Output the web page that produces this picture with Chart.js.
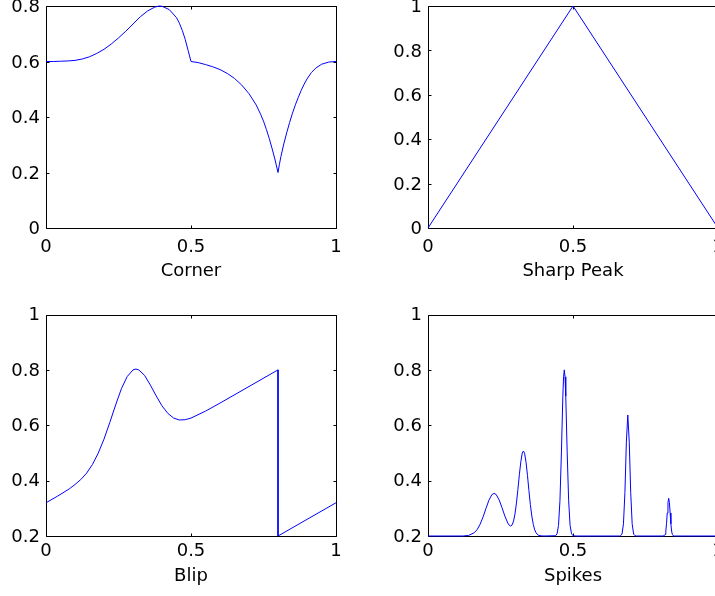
<!DOCTYPE html>
<html>
<head>
<meta charset="utf-8">
<script src="https://cdn.jsdelivr.net/npm/chart.js@4.4.1/dist/chart.umd.min.js"></script>
<style>
html, body { margin: 0; padding: 0; background: #fff; overflow: hidden; }
#wrap { position: relative; width: 715px; height: 596px; overflow: hidden; background: #fff; }
canvas { position: absolute; }
</style>
</head>
<body>
<div id="wrap">
  <canvas id="c1" width="360" height="308" style="left:0px;top:0px;width:360px;height:308px"></canvas>
  <canvas id="c2" width="400" height="308" style="left:360px;top:0px;width:400px;height:308px"></canvas>
  <canvas id="c3" width="360" height="316" style="left:0px;top:300px;width:360px;height:316px"></canvas>
  <canvas id="c4" width="400" height="316" style="left:360px;top:300px;width:400px;height:316px"></canvas>
</div>
<script>
// ---------------- data ----------------
const titles = ['Corner', 'Sharp Peak', 'Blip', 'Spikes'];

const xTickValues = [0, 0.5, 1];
const xTickLabels = ['0', '0.5', '1'];
const yTickValuesTop = [0, 0.2, 0.4, 0.6, 0.8, 1];
const yTickLabelsTop = ['0', '0.2', '0.4', '0.6', '0.8', '1'];
const yTickValuesCorner = [0, 0.2, 0.4, 0.6, 0.8];
const yTickLabelsCorner = ['0', '0.2', '0.4', '0.6', '0.8'];
const yTickValuesBottom = [0.2, 0.4, 0.6, 0.8, 1];
const yTickLabelsBottom = ['0.2', '0.4', '0.6', '0.8', '1'];

const cornerX = [0, 0.025, 0.05, 0.075, 0.1, 0.125, 0.15, 0.175, 0.2, 0.225, 0.25, 0.275, 0.3, 0.325, 0.35, 0.375, 0.39, 0.4, 0.425, 0.45, 0.46, 0.47, 0.48, 0.49, 0.495, 0.5,
  0.525, 0.55, 0.575, 0.6, 0.625, 0.65, 0.675, 0.7, 0.725, 0.74, 0.75, 0.76, 0.77, 0.78, 0.79, 0.8,
  0.805, 0.81, 0.82, 0.83, 0.84, 0.85, 0.86, 0.87, 0.88, 0.89, 0.9, 0.915, 0.93, 0.95, 0.975, 1];
const cornerY = [0.6, 0.6, 0.601, 0.602, 0.604, 0.609, 0.617, 0.629, 0.644, 0.663, 0.685, 0.709, 0.735, 0.761, 0.782, 0.796, 0.8, 0.799, 0.787, 0.758, 0.738, 0.712, 0.68, 0.64, 0.62, 0.6,
  0.596, 0.589, 0.581, 0.571, 0.557, 0.539, 0.515, 0.484, 0.443, 0.41, 0.385, 0.355, 0.322, 0.285, 0.245, 0.2,
  0.23, 0.257, 0.303, 0.343, 0.38, 0.414, 0.444, 0.471, 0.496, 0.518, 0.537, 0.56, 0.576, 0.59, 0.598, 0.6];

const peakX = [0, 0.5, 1];
const peakY = [0, 1, 0];

const blipX = [0, 0.04, 0.08, 0.1, 0.12, 0.14, 0.16, 0.18, 0.2, 0.22, 0.24, 0.26, 0.28, 0.3, 0.31, 0.32, 0.34, 0.36, 0.38, 0.4, 0.42, 0.44, 0.46, 0.48, 0.5, 0.55, 0.6, 0.7, 0.8, 0.8, 0.9, 1];
const blipY = [0.32, 0.344, 0.37, 0.386, 0.404, 0.427, 0.458, 0.499, 0.55, 0.61, 0.673, 0.732, 0.776, 0.8, 0.803, 0.8, 0.78, 0.745, 0.706, 0.67, 0.643, 0.626, 0.619, 0.62, 0.626, 0.651, 0.68, 0.74, 0.8, 0.2, 0.26, 0.32];

const spikesX = [0, 0.12, 0.14, 0.16, 0.17, 0.18, 0.19, 0.2, 0.21, 0.22, 0.228, 0.235, 0.245, 0.255, 0.265, 0.275, 0.28, 0.285, 0.29, 0.295, 0.3, 0.305, 0.31, 0.315, 0.32, 0.325, 0.329, 0.333, 0.338, 0.343, 0.348, 0.353, 0.358, 0.363, 0.368, 0.373, 0.38, 0.39, 0.4,
  0.44, 0.445, 0.45, 0.455, 0.46, 0.465, 0.4675, 0.47, 0.4725, 0.475, 0.48, 0.485, 0.49, 0.495, 0.5, 0.51,
  0.66, 0.664, 0.669, 0.674, 0.679, 0.684, 0.689, 0.694, 0.699, 0.704, 0.709, 0.714, 0.72,
  0.81, 0.815, 0.8175, 0.82, 0.8225, 0.825, 0.8275, 0.83, 0.8325, 0.835, 0.8375, 0.84, 0.8425, 0.845, 0.85, 1];
const spikesY = [0.2, 0.2, 0.202, 0.212, 0.224, 0.243, 0.269, 0.3, 0.329, 0.349, 0.354, 0.35, 0.331, 0.303, 0.272, 0.247, 0.239, 0.236, 0.24, 0.254, 0.28, 0.319, 0.368, 0.421, 0.468, 0.5, 0.507, 0.499, 0.467, 0.419, 0.364, 0.313, 0.272, 0.242, 0.222, 0.211, 0.203, 0.2005, 0.2,
  0.201, 0.208, 0.238, 0.327, 0.5, 0.705, 0.775, 0.8, 0.775, 0.705, 0.5, 0.327, 0.238, 0.208, 0.201, 0.2,
  0.2, 0.201, 0.207, 0.244, 0.357, 0.539, 0.637, 0.539, 0.357, 0.244, 0.207, 0.201, 0.2,
  0.2, 0.2015, 0.206, 0.218, 0.244, 0.283, 0.32, 0.336, 0.32, 0.283, 0.244, 0.218, 0.206, 0.2015, 0.2, 0.2];

// ---------------- drawing ----------------
const FONT = { family: 'DejaVu Sans', size: 18 };

const frameTicks = {
  id: 'frameTicks',
  beforeDatasetsDraw(chart) {
    const { ctx, chartArea: a, scales: { x, y } } = chart;
    const L = Math.round(a.left) + 0.5, R = Math.round(a.right) + 0.5;
    const T = Math.round(a.top) + 0.5, B = Math.round(a.bottom) + 0.5;
    const tl = 3;
    ctx.save();
    ctx.strokeStyle = '#000';
    ctx.lineWidth = 1;
    ctx.beginPath();
    ctx.rect(L, T, R - L, B - T);
    x.ticks.forEach(t => {
      const px = Math.round(x.getPixelForValue(t.value)) + 0.5;
      ctx.moveTo(px, B); ctx.lineTo(px, B - tl);
      ctx.moveTo(px, T); ctx.lineTo(px, T + tl);
    });
    y.ticks.forEach(t => {
      const py = Math.round(y.getPixelForValue(t.value)) + 0.5;
      ctx.moveTo(L, py); ctx.lineTo(L + tl, py);
      ctx.moveTo(R, py); ctx.lineTo(R - tl, py);
    });
    ctx.stroke();
    ctx.restore();
  }
};

function makeChart(id, cfg) {
  const pts = cfg.xs.map((xv, i) => ({ x: xv, y: cfg.ys[i] }));
  return new Chart(document.getElementById(id), {
    type: 'line',
    data: {
      datasets: [{
        data: pts,
        borderColor: '#0000ff',
        borderWidth: 1,
        borderJoinStyle: 'round',
        borderCapStyle: 'round',
        pointRadius: 0,
        tension: 0,
        fill: false,
        clip: false
      }]
    },
    options: {
      responsive: false,
      animation: false,
      events: [],
      layout: { padding: { top: cfg.padTop, left: 0, right: cfg.padRight, bottom: 0 } },
      plugins: { legend: { display: false }, tooltip: { enabled: false }, title: { display: false } },
      scales: {
        x: {
          type: 'linear', min: 0, max: 1,
          afterBuildTicks: s => { s.ticks = xTickValues.map(v => ({ value: v })); },
          ticks: {
            callback: (v, i) => xTickLabels[i],
            font: FONT, color: '#000', padding: cfg.xPad, autoSkip: false, maxRotation: 0
          },
          grid: { display: false, drawTicks: false, tickLength: 0 },
          border: { display: false },
          title: { display: true, text: cfg.title, font: FONT, color: '#000', padding: { top: 0, bottom: cfg.titlePb } },
          afterFit: s => { s.height = 80; s.paddingLeft = 0; s.paddingRight = 0; }
        },
        y: {
          type: 'linear', min: cfg.ymin, max: cfg.ymax,
          afterBuildTicks: s => { s.ticks = cfg.yVals.map(v => ({ value: v })); },
          ticks: {
            callback: (v, i) => cfg.yLabels[i],
            font: FONT, color: '#000', padding: 6, autoSkip: false, labelOffset: cfg.yLabelOffset
          },
          grid: { display: false, drawTicks: false, tickLength: 0 },
          border: { display: false },
          afterFit: s => { s.width = cfg.yW; s.paddingTop = 0; s.paddingBottom = 0; }
        }
      }
    },
    plugins: [frameTicks]
  });
}

makeChart('c1', { xs: cornerX, ys: cornerY, title: titles[0], ymin: 0, ymax: 0.8,
  yVals: yTickValuesCorner, yLabels: yTickLabelsCorner, padTop: 6, padRight: 24, yW: 46,
  xPad: 9, titlePb: 25.6, yLabelOffset: 1.5 });
makeChart('c2', { xs: peakX, ys: peakY, title: titles[1], ymin: 0, ymax: 1,
  yVals: yTickValuesTop, yLabels: yTickLabelsTop, padTop: 6, padRight: 42, yW: 68,
  xPad: 9, titlePb: 25.6, yLabelOffset: 1.5 });
makeChart('c3', { xs: blipX, ys: blipY, title: titles[2], ymin: 0.2, ymax: 1,
  yVals: yTickValuesBottom, yLabels: yTickLabelsBottom, padTop: 14.5, padRight: 24, yW: 46,
  xPad: 5, titlePb: 28.5, yLabelOffset: 1 });
makeChart('c4', { xs: spikesX, ys: spikesY, title: titles[3], ymin: 0.2, ymax: 1,
  yVals: yTickValuesBottom, yLabels: yTickLabelsBottom, padTop: 14.5, padRight: 42, yW: 68,
  xPad: 5, titlePb: 28.5, yLabelOffset: 1 });
</script>
</body>
</html>
